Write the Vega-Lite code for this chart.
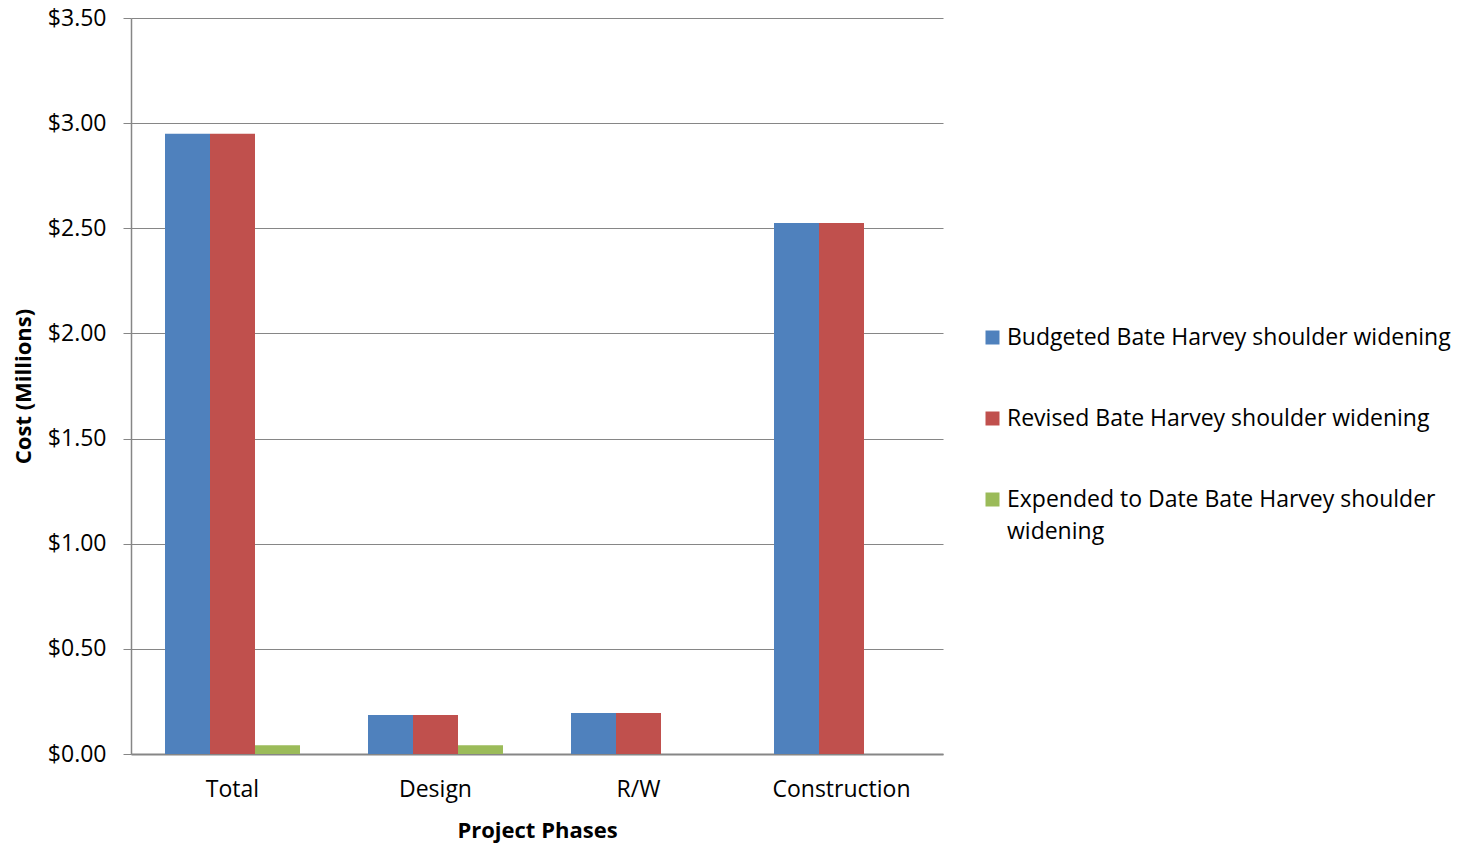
{
  "$schema": "https://vega.github.io/schema/vega-lite/v6.json",
  "width": 812,
  "height": 736,
  "autosize": {"type": "none"},
  "padding": {"left": 131, "top": 18, "right": 524, "bottom": 91},
  "background": "white",
  "config": {
    "font": "Open Sans",
    "view": {"stroke": null}
  },
  "data": {
    "values": [
      {"phase": "Total", "series": "Budgeted Bate Harvey shoulder widening", "cost": 2.95},
      {"phase": "Total", "series": "Revised Bate Harvey shoulder widening", "cost": 2.95},
      {"phase": "Total", "series": "Expended to Date Bate Harvey shoulder widening", "cost": 0.042},
      {"phase": "Design", "series": "Budgeted Bate Harvey shoulder widening", "cost": 0.185},
      {"phase": "Design", "series": "Revised Bate Harvey shoulder widening", "cost": 0.185},
      {"phase": "Design", "series": "Expended to Date Bate Harvey shoulder widening", "cost": 0.042},
      {"phase": "R/W", "series": "Budgeted Bate Harvey shoulder widening", "cost": 0.195},
      {"phase": "R/W", "series": "Revised Bate Harvey shoulder widening", "cost": 0.195},
      {"phase": "R/W", "series": "Expended to Date Bate Harvey shoulder widening", "cost": 0},
      {"phase": "Construction", "series": "Budgeted Bate Harvey shoulder widening", "cost": 2.525},
      {"phase": "Construction", "series": "Revised Bate Harvey shoulder widening", "cost": 2.525},
      {"phase": "Construction", "series": "Expended to Date Bate Harvey shoulder widening", "cost": 0}
    ]
  },
  "mark": {"type": "bar"},
  "encoding": {
    "x": {
      "field": "phase",
      "type": "nominal",
      "sort": ["Total", "Design", "R/W", "Construction"],
      "scale": {"paddingInner": 0.335, "paddingOuter": 0.1675},
      "axis": {
        "title": "Project Phases",
        "titleFontSize": 22,
        "titleFontWeight": "bold",
        "titleColor": "#000000",
        "titlePadding": 19,
        "labelAngle": 0,
        "labelFontSize": 23,
        "labelColor": "#000000",
        "labelPadding": 24,
        "ticks": false,
        "domainColor": "#868686",
        "domainWidth": 2
      }
    },
    "xOffset": {
      "field": "series",
      "type": "nominal",
      "sort": ["Budgeted Bate Harvey shoulder widening", "Revised Bate Harvey shoulder widening", "Expended to Date Bate Harvey shoulder widening"],
      "scale": {"paddingInner": 0, "paddingOuter": 0}
    },
    "y": {
      "field": "cost",
      "type": "quantitative",
      "scale": {"domain": [0, 3.5], "nice": false},
      "axis": {
        "title": "Cost (Millions)",
        "titleFontSize": 22,
        "titleFontWeight": "bold",
        "titleColor": "#000000",
        "titlePadding": 12,
        "values": [0, 0.5, 1, 1.5, 2, 2.5, 3, 3.5],
        "format": "$.2f",
        "labelFontSize": 23,
        "labelColor": "#000000",
        "labelPadding": 17,
        "tickSize": 8,
        "tickColor": "#868686",
        "domainColor": "#868686",
        "domainWidth": 1.5,
        "grid": true,
        "gridColor": "#868686",
        "gridWidth": 1.2
      }
    },
    "color": {
      "field": "series",
      "type": "nominal",
      "sort": ["Budgeted Bate Harvey shoulder widening", "Revised Bate Harvey shoulder widening", "Expended to Date Bate Harvey shoulder widening"],
      "scale": {"range": ["#4F81BD", "#C0504D", "#9BBB59"]},
      "legend": {
        "title": null,
        "orient": "none",
        "legendX": 850,
        "legendY": 308,
        "symbolType": "square",
        "symbolSize": 196,
        "symbolStrokeWidth": 0,
        "labelFontSize": 23,
        "labelColor": "#000000",
        "labelLimit": 600,
        "labelOffset": 3,
        "rowPadding": 57,
        "labelExpr": "datum.label == 'Expended to Date Bate Harvey shoulder widening' ? ['Expended to Date Bate Harvey shoulder', 'widening'] : datum.label",
        "encode": {"labels": {"update": {"lineHeight": {"value": 32}}}}
      }
    }
  }
}
